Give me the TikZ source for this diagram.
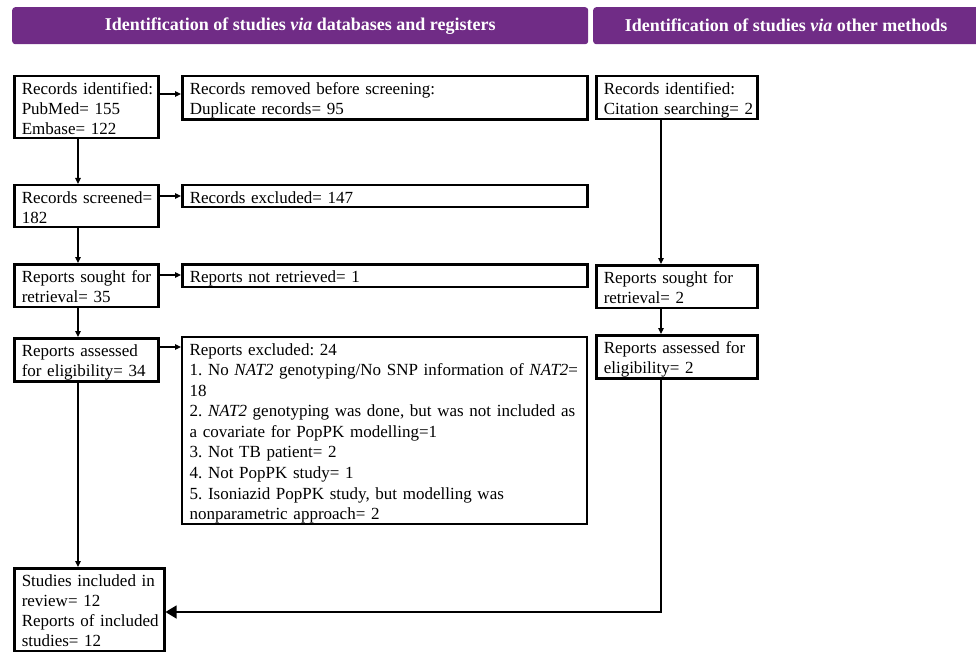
\documentclass[tikz,border=0pt]{standalone}
\usepackage{fontspec}
\setmainfont{Liberation Serif}
\usetikzlibrary{arrows.meta}
\frenchspacing
\definecolor{hdrpurple}{RGB}{112,44,134}
\newcommand\bodyfont{\fontsize{17}{20}\selectfont\frenchspacing\setbox\strutbox\hbox{\vrule height17pt depth3pt width0pt}}
\newcommand\hdrfont{\fontsize{18}{20}\selectfont\bfseries}
\newcommand\tb[1]{\begin{tabular}{@{}l@{}}#1\end{tabular}}
\newcommand\jl[1]{\makebox[390pt][s]{#1}}
\tikzset{
  box/.style={draw, line width=2.5pt, anchor=north west, inner xsep=7.5pt, inner ysep=1pt, align=left, font=\bodyfont},
  arr/.style={line width=1.2pt, -{Triangle[length=6pt,width=5.5pt]}},
  bigarr/.style={line width=1.2pt, -{Triangle[length=11pt,width=13pt]}},
  hdr/.style={fill=hdrpurple, rounded corners=3pt, anchor=north west, text=white, font=\hdrfont, inner sep=0pt, minimum height=37pt},
}
\begin{document}
\begin{tikzpicture}[x=1pt,y=-1pt]
\useasboundingbox (0,0) rectangle (976,652);
% headers
\node[hdr, minimum width=576pt] (h1) at (12,7) {Identification of studies \textit{via} databases and registers};
\node[hdr, minimum width=386pt] (h2) at (593,7) {Identification of studies \textit{via} other methods};
% left column
\node[box, text width=129pt] (id1) at (13,75) {\tb{Records identified:\\PubMed= 155\\Embase= 122}};
\node[box, text width=129pt] (scr) at (13,184) {\tb{Records screened=\\182}};
\node[box, text width=129pt] (sou) at (13,263) {\tb{Reports sought for\\retrieval= 35}};
\node[box, text width=129pt] (asr) at (13,337) {\tb{Reports assessed\\for eligibility= 34}};
\node[box, text width=135pt] (inc) at (13,567) {\tb{Studies included in\\review= 12\\Reports of included\\studies= 12}};
% middle column
\node[box, text width=390pt] (rem) at (181,75) {\tb{Records removed before screening:\\Duplicate records= 95}};
\node[box, text width=390pt] (ex1) at (181,184) {\tb{Records excluded= 147}};
\node[box, text width=390pt] (nr) at (181,263) {\tb{Reports not retrieved= 1}};
\node[box, line width=2.2pt, text width=390pt, minimum height=187pt] (ex2) at (181,336) {\tb{Reports excluded: 24\\
\jl{1. No \textit{NAT2} genotyping/No SNP information of \textit{NAT2}=}\\
18\\
\jl{2. \textit{NAT2} genotyping was done, but was not included as}\\
a covariate for PopPK modelling=1\\
3. Not TB patient= 2\\
4. Not PopPK study= 1\\
5. Isoniazid PopPK study, but modelling was\\
nonparametric approach= 2}};
% right column
\node[box, text width=146pt] (oid) at (595,75) {\tb{Records identified:\\Citation searching= 2}};
\node[box, text width=146pt] (osou) at (595,264) {\tb{Reports sought for\\retrieval= 2}};
\node[box, text width=146pt] (oas) at (595,334) {\tb{Reports assessed for\\eligibility= 2}};
% helper coordinates
\coordinate (xl) at (78,0);
\coordinate (xr) at (661,0);
\coordinate (y1) at (0,94);
\coordinate (y2) at (0,196);
\coordinate (y3) at (0,275);
\coordinate (y4) at (0,347);
\coordinate (yb) at (0,612);
% vertical arrows
\draw[arr] (id1.south -| xl) -- (scr.north -| xl);
\draw[arr] (scr.south -| xl) -- (sou.north -| xl);
\draw[arr] (sou.south -| xl) -- (asr.north -| xl);
\draw[arr] (asr.south -| xl) -- (inc.north -| xl);
\draw[arr] (oid.south -| xr) -- (osou.north -| xr);
\draw[arr] (osou.south -| xr) -- (oas.north -| xr);
% horizontal arrows
\draw[arr] (id1.east |- y1) -- (rem.west |- y1);
\draw[arr] (scr.east |- y2) -- (ex1.west |- y2);
\draw[arr] (sou.east |- y3) -- (nr.west |- y3);
\draw[arr] (asr.east |- y4) -- (ex2.west |- y4);
% return arrow
\draw[bigarr] (oas.south -| xr) |- (inc.east |- yb);
\end{tikzpicture}
\end{document}
